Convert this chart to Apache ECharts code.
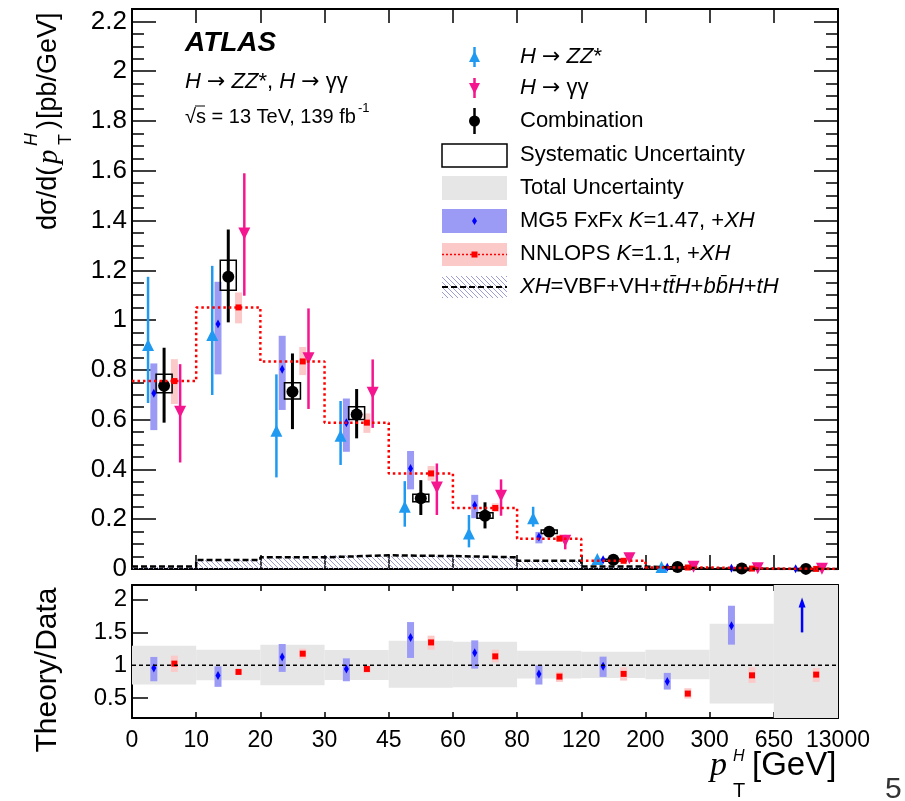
<!DOCTYPE html>
<html><head><meta charset="utf-8">
<script src="https://cdn.jsdelivr.net/npm/echarts@6/dist/echarts.min.js"></script>
<style>html,body{margin:0;padding:0;background:#fff}#c{width:905px;height:801px}</style>
</head><body><div id="c"></div>
<script>
// ---------- data ----------
const binEdgeLabels = ['0','10','20','30','45','60','80','120','200','300','650','13000'];
const mainYTicks = [0,0.2,0.4,0.6,0.8,1,1.2,1.4,1.6,1.8,2,2.2];
const mainYMinorTicks = Array.from({length:46},(_,k)=>Math.round(k*5)/100);
const ratioYTicks = [0.5,1,1.5,2];

// H->ZZ*
const zzVal = [0.90,0.94,0.555,0.535,0.25,0.143,0.204,0.040,0.008,null,null];
const zzHi  = [1.174,1.218,0.782,0.675,0.353,0.217,0.250,0.050,0.012,null,null];
const zzLo  = [0.667,0.699,0.368,0.418,0.170,0.087,0.170,0.030,0.004,null,null];
// H->gamma gamma
const ggVal = [0.632,1.348,0.847,0.708,0.327,0.294,0.114,0.043,0.009,0.003,0.001];
const ggHi  = [0.823,1.590,1.047,0.842,0.424,0.360,0.137,0.050,0.012,0.005,0.002];
const ggLo  = [0.428,1.098,0.643,0.567,0.217,0.214,0.079,0.035,0.006,0.001,0.000];
// Combination
const combVal = [0.736,1.174,0.712,0.621,0.284,0.214,0.150,0.037,0.008,0.002,0.0005];
const combHi  = [0.889,1.364,0.866,0.723,0.357,0.268,0.170,0.045,0.011,0.003,0.001];
const combLo  = [0.588,0.991,0.562,0.525,0.217,0.163,0.130,0.030,0.005,0.001,0.000];
const combSysHi = [0.782,1.241,0.748,0.652,0.300,0.226,0.157,0.039,0.009,0.0025,0.0007];
const combSysLo = [0.708,1.120,0.683,0.601,0.270,0.204,0.143,0.035,0.007,0.0015,0.0003];
// MG5 FxFx
const mg5Val = [0.706,0.984,0.803,0.588,0.404,0.256,0.129,0.037,0.007,0.003,0.001];
const mg5Hi  = [0.826,1.154,0.937,0.685,0.474,0.298,0.149,0.042,0.008,0.004,0.0015];
const mg5Lo  = [0.558,0.782,0.639,0.471,0.320,0.204,0.103,0.032,0.006,0.002,0.0005];
// NNLOPS
const nnVal = [0.755,1.051,0.834,0.588,0.384,0.245,0.122,0.033,0.006,0.0017,0.0004];
const nnHi  = [0.843,1.111,0.892,0.625,0.414,0.264,0.130,0.036,0.007,0.002,0.0005];
const nnLo  = [0.663,0.987,0.779,0.547,0.355,0.229,0.114,0.030,0.005,0.0014,0.0003];
// XH contribution
const xhVal = [0.010,0.036,0.047,0.055,0.052,0.047,0.033,0.010,0.002,0.0005,0.0001];

// Ratio panel
const totRatioHi = [1.298,1.238,1.313,1.233,1.374,1.359,1.223,1.208,1.238,1.632,2.40];
const totRatioLo = [0.708,0.773,0.697,0.779,0.658,0.667,0.800,0.809,0.788,0.420,0.05];
const mg5Ratio   = [0.960,0.844,1.127,0.945,1.424,1.192,0.870,0.985,0.753,1.602,null];
const mg5RatioHi = [1.127,0.985,1.324,1.106,1.657,1.379,1.000,1.132,0.885,1.905,null];
const mg5RatioLo = [0.758,0.673,0.900,0.758,1.112,0.950,0.708,0.824,0.632,1.314,null];
const mg5ArrowBin = 10, mg5ArrowFrom = 1.5, mg5ArrowTo = 2.03;
const nnRatio   = [1.026,0.900,1.177,0.945,1.348,1.136,0.829,0.870,0.571,0.848,0.859];
const nnRatioHi = [1.147,0.940,1.253,0.985,1.450,1.238,0.900,0.970,0.652,0.970,0.960];
const nnRatioLo = [0.900,0.860,1.097,0.885,1.238,1.045,0.748,0.768,0.495,0.733,0.748];

// ---------- style / layout ----------
const FF = '"Liberation Sans", Arial, Helvetica, sans-serif';
const SERIF = '"Liberation Serif", "Times New Roman", serif';
const ARROWF = '"DejaVu Sans", sans-serif';
const C = {zz:'#1f9af0', gg:'#f5168f', mg5Band:'#9b9bf6', mg5:'#0000ff', nnBand:'#fcc9c9', nn:'#ff0000', tot:'#e6e6e6', hatch:'#9c9cd6'};
const OFF = {zz:0.25, mg5:0.34, comb:0.5, nn:0.66, gg:0.75, arrow:0.44};

function pts(vals, off){ return vals.map((v,i)=> v==null?null:[i+off, v]).filter(p=>p); }
function ranges(lo, hi, off){ return lo.map((l,i)=> (l==null||hi[i]==null)?null:[i+off,l,hi[i]]).filter(p=>p); }

function hatchLines(x0,y0,x1,y1,step,color){
  const out=[];
  const cMin=Math.floor((x0-y1)/step)*step, cMax=Math.ceil((x1-y0)/step)*step;
  for(let c=cMin;c<=cMax;c+=step){
    const ya=Math.max(y0,x0-c), yb=Math.min(y1,x1-c);
    if(yb>ya) out.push({type:'line', shape:{x1:ya+c,y1:ya,x2:yb+c,y2:yb}, style:{stroke:color,lineWidth:1}});
  }
  return out;
}

function bandSeries(ax, ay, data, color, w){
  return {type:'custom', xAxisIndex:ax, yAxisIndex:ay, data, clip:true, silent:true,
    encode:{x:0,y:[1,2]},
    renderItem:(p,api)=>{
      const a=api.coord([api.value(0),api.value(2)]), b=api.coord([api.value(0),api.value(1)]);
      return {type:'rect', shape:{x:a[0]-w/2,y:a[1],width:w,height:Math.max(b[1]-a[1],1)}, style:{fill:color}};
    }};
}
function errSeries(ax, ay, data, color, lw){
  return {type:'custom', xAxisIndex:ax, yAxisIndex:ay, data, clip:false, silent:true,
    encode:{x:0,y:[1,2]},
    renderItem:(p,api)=>{
      const a=api.coord([api.value(0),api.value(2)]), b=api.coord([api.value(0),api.value(1)]);
      return {type:'line', shape:{x1:a[0],y1:a[1],x2:b[0],y2:b[1]}, style:{stroke:color,lineWidth:lw}};
    }};
}
function boxSeries(ax, ay, data, w){
  return {type:'custom', xAxisIndex:ax, yAxisIndex:ay, data, clip:false, silent:true,
    encode:{x:0,y:[1,2]},
    renderItem:(p,api)=>{
      const a=api.coord([api.value(0),api.value(2)]), b=api.coord([api.value(0),api.value(1)]);
      return {type:'rect', shape:{x:a[0]-w/2,y:a[1],width:w,height:Math.max(b[1]-a[1],2)}, style:{fill:'none',stroke:'#000',lineWidth:1.5}};
    }};
}
function scatterSeries(ax, ay, data, symbol, size, color, rot){
  return {type:'scatter', xAxisIndex:ax, yAxisIndex:ay, data, symbol, symbolSize:size, symbolRotate:rot||0,
    itemStyle:{color, opacity:1}, clip:false, silent:true};
}

const hatchSeries = {type:'custom', xAxisIndex:0, yAxisIndex:0, clip:true, silent:true,
  data: xhVal.map((v,i)=>[i,v]), encode:{x:0,y:1},
  renderItem:(p,api)=>{
    const i=api.value(0), v=api.value(1);
    const a=api.coord([i,v]), b=api.coord([i+1,0]);
    return {type:'group', children:hatchLines(a[0],a[1],b[0],b[1],5,C.hatch)};
  }};

const stepLine = (vals,color,type,w)=>({type:'line', xAxisIndex:0, yAxisIndex:0, step:'end', symbol:'none', silent:true,
  data: vals.map((v,i)=>[i,v]).concat([[vals.length, vals[vals.length-1]]]),
  lineStyle:{color, width:w, type, cap:'butt'}});

const arrowSeries = {type:'custom', xAxisIndex:2, yAxisIndex:4, clip:false, silent:true,
  data:[[mg5ArrowBin+OFF.arrow, mg5ArrowFrom, mg5ArrowTo]], encode:{x:0,y:[1,2]},
  renderItem:(p,api)=>{
    const a=api.coord([api.value(0),api.value(2)]), b=api.coord([api.value(0),api.value(1)]);
    return {type:'group', children:[
      {type:'line', shape:{x1:b[0],y1:b[1],x2:a[0],y2:a[1]+6}, style:{stroke:C.mg5,lineWidth:2.5}},
      {type:'polygon', shape:{points:[[a[0],a[1]],[a[0]-3.5,a[1]+10],[a[0]+3.5,a[1]+10]]}, style:{fill:C.mg5}}
    ]};
  }};

// ---------- axes ----------
const black = '#000';
function xAx(grid, pos, tickLen, labels){
  return {type:'value', gridIndex:grid, position:pos, min:0, max:11, interval:1,
    axisLine:{show:true, onZero:false, lineStyle:{color:black,width:2}},
    axisTick:{show:true, inside:true, length:tickLen, lineStyle:{color:black,width:1.5}},
    axisLabel: labels ? {show:true, margin:11, fontSize:23, fontFamily:FF, color:black,
      formatter:(v)=>binEdgeLabels[Math.round(v)]} : {show:false},
    splitLine:{show:false}};
}
function yAx(grid, pos, min, max, ticks, tickLen, labelSize){
  return {type:'value', gridIndex:grid, position:pos, min, max,
    axisLine:{show:true, onZero:false, lineStyle:{color:black,width:2}},
    axisTick:{show:true, inside:true, length:tickLen, customValues:ticks, lineStyle:{color:black,width:1.5}},
    axisLabel: labelSize ? {show:true, customValues:ticks, margin:5, fontSize:labelSize, fontFamily:FF, color:black,
      formatter:(v)=>String(v)} : {show:false},
    splitLine:{show:false}};
}

// ---------- legend / texts ----------
function txt(x,y,text,size,extra){
  return Object.assign({type:'text', x, y, silent:true, style:Object.assign({text, fontSize:size, fontFamily:FF, fill:'#000',
    verticalAlign:'middle', align:'left'}, extra||{})});
}
function rich(size){
  return {i:{fontSize:size,fontFamily:FF,fontStyle:'italic',fill:'#000'},
          n:{fontSize:size,fontFamily:FF,fill:'#000'},
          a:{fontSize:size,fontFamily:ARROWF,fill:'#000'}};
}
const LX0=442, LW=65, LXC=474.5, LTX=520;
const legendEls = [
  {type:'line', shape:{x1:LXC,y1:47,x2:LXC,y2:67}, style:{stroke:C.zz,lineWidth:2.5}},
  {type:'polygon', shape:{points:[[LXC,51],[LXC-5.5,62],[LXC+5.5,62]]}, style:{fill:C.zz}},
  txt(LTX,57,'{i|H} {a|→} {i|ZZ}*',22,{rich:rich(22)}),
  {type:'line', shape:{x1:LXC,y1:78,x2:LXC,y2:98}, style:{stroke:C.gg,lineWidth:2.5}},
  {type:'polygon', shape:{points:[[LXC,94],[LXC-5.5,83],[LXC+5.5,83]]}, style:{fill:C.gg}},
  txt(LTX,88,'{i|H} {a|→} γγ',22,{rich:rich(22)}),
  {type:'line', shape:{x1:LXC,y1:108,x2:LXC,y2:134}, style:{stroke:'#000',lineWidth:2.5}},
  {type:'circle', shape:{cx:LXC,cy:121,r:5.5}, style:{fill:'#000'}},
  txt(LTX,121,'Combination',22),
  {type:'rect', shape:{x:LX0,y:144,width:LW,height:23}, style:{fill:'none',stroke:'#000',lineWidth:1.5}},
  txt(LTX,155,'Systematic Uncertainty',22),
  {type:'rect', shape:{x:LX0,y:176,width:LW,height:24}, style:{fill:C.tot}},
  txt(LTX,188,'Total Uncertainty',22),
  {type:'rect', shape:{x:LX0,y:209,width:LW,height:24}, style:{fill:C.mg5Band}},
  {type:'polygon', shape:{points:[[LXC,217],[LXC+2.5,221],[LXC,225],[LXC-2.5,221]]}, style:{fill:C.mg5}},
  txt(LTX,221,'MG5 FxFx {i|K}=1.47, +{i|XH}',22,{rich:rich(22)}),
  {type:'rect', shape:{x:LX0,y:243,width:LW,height:23}, style:{fill:C.nnBand}},
  {type:'line', shape:{x1:LX0,y1:254.5,x2:LX0+LW,y2:254.5}, style:{stroke:C.nn,lineWidth:1.5,lineDash:[2,2]}},
  {type:'rect', shape:{x:LXC-3,y:251.5,width:6,height:6}, style:{fill:C.nn}},
  txt(LTX,254,'NNLOPS {i|K}=1.1, +{i|XH}',22,{rich:rich(22)}),
  {type:'group', children:hatchLines(LX0,276,LX0+LW,298,5,C.hatch)},
  {type:'line', shape:{x1:LX0,y1:287,x2:LX0+LW,y2:287}, style:{stroke:'#000',lineWidth:2,lineDash:[6,3]}},
  txt(LTX,287,'{i|XH}=VBF+VH+{i|t}{i|t\u0304}{i|H}+{i|b}{i|b\u0304}{i|H}+{i|tH}',22,{rich:rich(22)})
];

const textEls = [
  txt(185,43,'ATLAS',28,{fontWeight:'bold',fontStyle:'italic'}),
  txt(185,82,'{i|H} {a|→} {i|ZZ}*, {i|H} {a|→} γγ',22,{rich:rich(22)}),
  txt(185,117,'√s = 13 TeV, 139 fb',20),
  {type:'line', shape:{x1:195,y1:106,x2:205,y2:106}, style:{stroke:'#000',lineWidth:1}},
  txt(358,108,'-1',13),
  // y-axis title (rotated)
  {type:'group', x:49, y:230, rotation:Math.PI/2, children:[
    txt(0,0,'dσ/d(',27),
    txt(66,0,'p',29,{fontFamily:SERIF,fontStyle:'italic'}),
    txt(84,-17,'H',18,{fontStyle:'italic'}),
    txt(85,17,'T',18),
    txt(101,0,')',27),
    txt(111,0,'[pb/GeV]',27)
  ]},
  {type:'group', x:48, y:670, rotation:Math.PI/2, children:[
    txt(0,0,'Theory/Data',30,{align:'center'})
  ]},
  // x-axis title
  txt(710,766,'p',34,{fontFamily:SERIF,fontStyle:'italic'}),
  txt(733,757,'H',16,{fontStyle:'italic'}),
  txt(733,791,'T',20),
  txt(752,766,'[GeV]',33),
  txt(885,790,'5',30,{fill:'#333'})
];

// ---------- chart ----------
const chart = echarts.init(document.getElementById('c'), null, {renderer:'canvas'});
chart.setOption({
  animation:false,
  backgroundColor:'#fff',
  grid:[{left:132, top:9, width:706, height:560}, {left:132, top:585, width:706, height:133}],
  xAxis:[ xAx(0,'bottom',14,false), xAx(0,'top',14,false), xAx(1,'bottom',6,true), xAx(1,'top',6,false) ],
  yAxis:[
    yAx(0,'left',0,2.25,mainYTicks,24,26),
    yAx(0,'left',0,2.25,mainYMinorTicks,12,0),
    yAx(0,'right',0,2.25,mainYTicks,24,0),
    yAx(0,'right',0,2.25,mainYMinorTicks,12,0),
    yAx(1,'left',0.2,2.22,ratioYTicks,16,24),
    yAx(1,'right',0.2,2.22,ratioYTicks,16,0)
  ],
  series:[
    // main panel
    hatchSeries,
    stepLine(xhVal,'#000',[6,3],2.5),
    stepLine(nnVal,C.nn,[2.5,3],2.5),
    bandSeries(0,0,ranges(mg5Lo,mg5Hi,OFF.mg5),C.mg5Band,7),
    bandSeries(0,0,ranges(nnLo,nnHi,OFF.nn),C.nnBand,7),
    errSeries(0,0,ranges(zzLo,zzHi,OFF.zz),C.zz,2.5),
    scatterSeries(0,0,pts(zzVal,OFF.zz),'triangle',[12,12],C.zz),
    errSeries(0,0,ranges(ggLo,ggHi,OFF.gg),C.gg,2.5),
    scatterSeries(0,0,pts(ggVal,OFF.gg),'triangle',[12,12],C.gg,180),
    boxSeries(0,0,ranges(combSysLo,combSysHi,OFF.comb),16),
    errSeries(0,0,ranges(combLo,combHi,OFF.comb),'#000',3),
    scatterSeries(0,0,pts(combVal,OFF.comb),'circle',12,'#000'),
    scatterSeries(0,0,pts(mg5Val,OFF.mg5),'diamond',[5,9],C.mg5),
    scatterSeries(0,0,pts(nnVal,OFF.nn),'rect',6,C.nn),
    // ratio panel
    bandSeries(2,4,ranges(totRatioLo,totRatioHi,0.5),C.tot,64.2),
    {type:'line', xAxisIndex:2, yAxisIndex:4, symbol:'none', silent:true, data:[[0,1],[11,1]],
      lineStyle:{color:'#000',width:1.5,type:[4,3]}},
    bandSeries(2,4,ranges(mg5RatioLo,mg5RatioHi,OFF.mg5),C.mg5Band,7),
    scatterSeries(2,4,pts(mg5Ratio,OFF.mg5),'diamond',[5,9],C.mg5),
    bandSeries(2,4,ranges(nnRatioLo,nnRatioHi,OFF.nn),C.nnBand,7),
    scatterSeries(2,4,pts(nnRatio,OFF.nn),'rect',6,C.nn),
    arrowSeries
  ],
  graphic: legendEls.concat(textEls)
});
</script></body></html>
